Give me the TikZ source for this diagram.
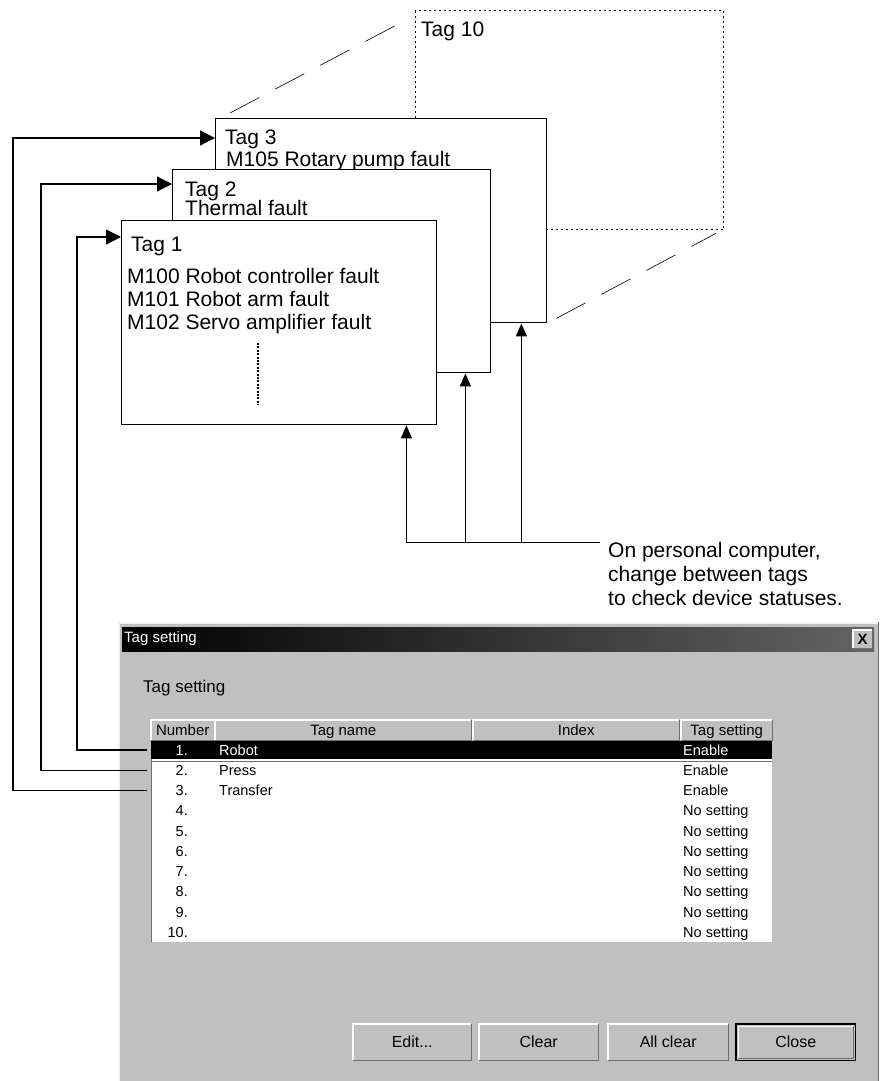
\documentclass[tikz,border=0pt]{standalone}
\usepackage{fontspec}
\setmainfont{Liberation Sans}
\usetikzlibrary{arrows.meta,calc}
\definecolor{wingray}{RGB}{192,192,192}
\definecolor{darkedge}{RGB}{110,110,110}
\definecolor{titleend}{RGB}{100,100,100}
\newcommand\bevelbox[1]{%
  \draw[white,line width=1.2pt] (#1.south west) -- (#1.north west) -- (#1.north east);
  \draw[darkedge,line width=1.2pt] (#1.north east) -- (#1.south east) -- (#1.south west);}
\begin{document}
\begin{tikzpicture}[x=1pt,y=-1pt,
  tagbox/.style={draw=black,line width=1.4pt,fill=white,anchor=north west,inner sep=0pt},
  tagtxt/.style={anchor=base west,inner sep=0pt,font=\fontsize{21}{24}\selectfont},
  conn/.style={line width=1.2pt},
  larrow/.style={conn,-{Triangle[length=15pt,width=15pt]}},
  barrow/.style={line width=1pt,-{Triangle[length=13pt,width=11pt]}},
  persp/.style={line width=0.6pt,dash pattern=on 33pt off 18pt},
  uitxt/.style={inner sep=0pt,font=\fontsize{14.5}{17}\selectfont},
  hdtxt/.style={inner sep=0pt,anchor=base,font=\fontsize{15}{17}\selectfont},
  hdcell/.style={fill=wingray,anchor=north west,inner sep=0pt,minimum height=20pt},
  btn/.style={fill=wingray,anchor=north west,inner sep=0pt,minimum height=36pt,font=\fontsize{16}{18}\selectfont}
]
\useasboundingbox (0,0) rectangle (879,1081);
\fill[white] (0,0) rectangle (879,1081);

% ---------- tag sheets ----------
\node[draw=black,line width=1.2pt,dash pattern=on 2pt off 3pt,anchor=north west,inner sep=0pt,
      minimum width=308pt,minimum height=219pt] (t10) at (415,10) {};
\node[tagtxt] (t10a) at (421,37) {Tag 10};

\node[tagbox,minimum width=331pt,minimum height=204pt] (t3) at (215,118) {};
\node[tagtxt] (t3a) at (225,144.5) {Tag 3};
\node[tagtxt] (t3b) at (226,166.5) {M105 Rotary pump fault};

\node[tagbox,minimum width=318pt,minimum height=203pt] (t2) at (172,169) {};
\node[tagtxt] (t2a) at (185,196) {Tag 2};
\node[tagtxt] (t2b) at (185,215.5) {Thermal fault};

\node[tagbox,minimum width=315pt,minimum height=204pt] (t1) at (121,220) {};
\node[tagtxt] (t1a) at (131,251) {Tag 1};
\node[tagtxt] (t1b) at (127,283) {M100 Robot controller fault};
\node[tagtxt] (t1c) at (127,306) {M101 Robot arm fault};
\node[tagtxt] (t1d) at (127,329.5) {M102 Servo amplifier fault};
\coordinate (dtop) at (258,343);
\coordinate (dbot) at (258,405);
\draw[line width=2.2pt,dash pattern=on 2pt off 1.4pt] (dtop) -- (dbot);

% perspective lines
\coordinate (p1a) at ($(t3.north west)+(15,-5)$);
\coordinate (p1b) at ($(t10.north west)+(-11,11)$);
\coordinate (p2a) at ($(t3.south east)+(9,-5)$);
\coordinate (p2b) at ($(t10.south east)+(-8,3)$);
\draw[persp] (p1a) -- (p1b);
\draw[persp] (p2a) -- (p2b);

% ---------- note and bottom arrows ----------
\node[anchor=base west,inner sep=0pt,align=left,font=\fontsize{21}{24}\selectfont] (note) at (608,605)
  {On personal computer,\\change between tags\\to check device statuses.};
\coordinate (nl) at (600,542);
\coordinate (b1) at ($(t1.south east)+(-31,0)$);
\coordinate (b2) at ($(t2.south east)+(-26,0)$);
\coordinate (b3) at ($(t3.south east)+(-26,0)$);
\draw[barrow] (nl) -| (b1);
\draw[barrow] (b2 |- nl) -- (b2);
\draw[barrow] (b3 |- nl) -- (b3);

% ---------- dialog ----------
\node[fill=wingray,anchor=north west,inner sep=0pt,minimum width=760pt,minimum height=462pt] (dlg) at (118,622) {};
\draw[white!90!gray,line width=2pt] ($(dlg.south west)+(1,0)$) -- ($(dlg.north west)+(1,1)$) -- ($(dlg.north east)+(0,1)$);
\draw[darkedge,line width=1pt] (dlg.north east) -- (dlg.south east);
\node[anchor=north west,inner sep=0pt,minimum width=752pt,minimum height=24pt,
      left color=black,middle color=black!80,right color=titleend] (tbar) at (122,627) {};
\node[anchor=west,text=white,inner sep=0pt,font=\fontsize{15}{17}\selectfont] (ttl) at (124,639) {Tag setting};
\node[fill=wingray,anchor=north west,inner sep=0pt,minimum width=19pt,minimum height=18pt,
      font=\fontsize{15}{17}\selectfont\bfseries] (xb) at (853,630) {X};
\bevelbox{xb}

\node[anchor=base west,inner sep=0pt,font=\fontsize{17}{20}\selectfont] (lbl) at (143,692) {Tag setting};

% table
\node[fill=white,anchor=north west,inner sep=0pt,minimum width=621pt,minimum height=202pt] (tbody) at (151,740) {};
\draw[darkedge,line width=0.8pt] (tbody.south west) -- (tbody.north west);
\node[hdcell,minimum width=63pt] (hnum) at (151,720) {};
\node[hdcell,minimum width=256pt] (hname) at (215,720) {};
\node[hdcell,minimum width=206pt] (hidx) at (473,720) {};
\node[hdcell,minimum width=91pt] (hset) at (681,720) {};
\bevelbox{hnum}\bevelbox{hname}\bevelbox{hidx}\bevelbox{hset}
\node[hdtxt] (hnumt) at ($(hnum.center)+(0,5.5)$) {Number};
\node[hdtxt] (hnamet) at ($(hname.center)+(0,5.5)$) {Tag name};
\node[hdtxt] (hidxt) at ($(hidx.center)+(0,5.5)$) {Index};
\node[hdtxt] (hsett) at ($(hset.center)+(0,5.5)$) {Tag setting};

\node[fill=black,anchor=north west,inner sep=0pt,minimum width=621pt,minimum height=18pt] (sel) at (151,741) {};
\draw[darkedge,line width=0.8pt] ($(sel.south west)+(0,1.5)$) -- ($(sel.south east)+(0,1.5)$);

\node[uitxt,anchor=base east,text=white] (n1) at (188,755) {1.};
\node[uitxt,anchor=base west,text=white] (m1) at (219,755) {Robot};
\node[uitxt,anchor=base west,text=white] (s1) at (683,755) {Enable};
\node[uitxt,anchor=base east] (n2) at (188,775.25) {2.};
\node[uitxt,anchor=base west] (m2) at (219,775.25) {Press};
\node[uitxt,anchor=base west] (s2) at (683,775.25) {Enable};
\node[uitxt,anchor=base east] (n3) at (188,795.5) {3.};
\node[uitxt,anchor=base west] (m3) at (219,795.5) {Transfer};
\node[uitxt,anchor=base west] (s3) at (683,795.5) {Enable};
\foreach \i in {4,...,10}{
  \node[uitxt,anchor=base east] (n\i) at (188,{755+20.25*(\i-1)}) {\i.};
  \node[uitxt,anchor=base west] (s\i) at (683,{755+20.25*(\i-1)}) {No setting};
}

% buttons
\node[btn,minimum width=118pt] (bedit) at (353,1024) {Edit...};
\node[btn,minimum width=119pt] (bclear) at (479,1024) {Clear};
\node[btn,minimum width=120pt] (ball) at (608,1024) {All clear};
\node[btn,minimum width=119pt] (bclose) at (736,1024) {Close};
\bevelbox{bedit}\bevelbox{bclear}\bevelbox{ball}\bevelbox{bclose}
\draw[black,line width=1.5pt] (bclose.north west) rectangle (bclose.south east);
\draw[white,line width=1pt] ($(bclose.south west)+(2,-2)$) -- ($(bclose.north west)+(2,2)$) -- ($(bclose.north east)+(-2,2)$);
\draw[darkedge,line width=1pt] ($(bclose.north east)+(-2,2)$) -- ($(bclose.south east)+(-2,-2)$) -- ($(bclose.south west)+(2,-2)$);

% ---------- connectors from table rows to tag sheets ----------
\coordinate (r1) at (147,750);
\coordinate (r2) at (147,770.25);
\coordinate (r3) at (147,790.5);
\coordinate (t1in) at ($(t1.north west)+(0,17)$);
\coordinate (t2in) at ($(t2.north west)+(0,15)$);
\coordinate (t3in) at ($(t3.north west)+(0,20)$);
\draw[larrow] (r1) -- ++(-70,0) |- (t1in);
\draw[larrow] (r2) -- ++(-106,0) |- (t2in);
\draw[larrow] (r3) -- ++(-134,0) |- (t3in);
\end{tikzpicture}
\end{document}
